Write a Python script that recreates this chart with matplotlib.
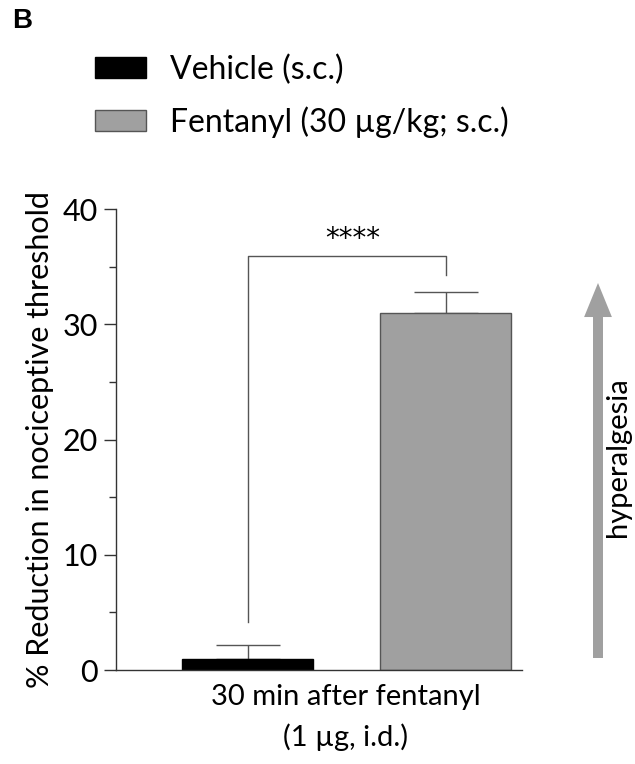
import matplotlib
matplotlib.use('Agg')
import matplotlib.pyplot as plt
from matplotlib.patches import Patch, FancyArrowPatch

plt.rcParams['font.family'] = ['Lato', 'DejaVu Sans']

groups = ['Vehicle (s.c.)', 'Fentanyl (30 \u00b5g/kg; s.c.)']
means = [1.0, 31.0]
sems = [1.2, 1.8]
colors = ['black', '#a0a0a0']
edges = ['black', '#555555']
bracket_y = 35.9
bracket_left_bottom = 4.2
bracket_right_bottom = 34.3
stars = '****'


def main():
    fig = plt.figure(figsize=(6.35, 7.64), dpi=100)
    ax = fig.add_axes([0.1827, 0.123, 0.6393, 0.6034])

    x = [0, 1]
    ax.bar(x, means, width=0.66, color=colors, edgecolor=edges, linewidth=1, zorder=2)
    ax.errorbar(x, means, yerr=[[0, 0], sems], fmt='none', ecolor='#555555',
                elinewidth=1, capsize=23, capthick=1, zorder=1)

    # significance bracket
    ax.plot([0, 0, 1, 1], [bracket_left_bottom, bracket_y, bracket_y, bracket_right_bottom],
            color='#555555', lw=1)
    ax.text(0.53, bracket_y + 0.3, stars, ha='center', va='bottom', fontsize=20,
            family='DejaVu Sans')

    ax.set_xlim(-0.664, 1.386)
    ax.set_ylim(0, 40)
    ax.set_yticks([0, 10, 20, 30, 40])
    ax.set_yticks([5, 15, 25, 35], minor=True)
    ax.set_xticks([])
    ax.tick_params(axis='y', which='major', length=9, width=1, labelsize=22, pad=4, color='#333333')
    ax.tick_params(axis='y', which='minor', length=5, width=1, color='#333333')
    for s in ['top', 'right']:
        ax.spines[s].set_visible(False)
    for s in ['left', 'bottom']:
        ax.spines[s].set_color('#333333')
        ax.spines[s].set_linewidth(1)

    ax.set_ylabel('% Reduction in nociceptive threshold', fontsize=22, labelpad=6)
    ax.set_xlabel('30 min after fentanyl\n(1 \u00b5g, i.d.)', fontsize=21,
                  linespacing=1.6)
    ax.xaxis.set_label_coords(0.565, -0.03)
    ax.xaxis.label.set_va('top')

    handles = [Patch(facecolor=c, edgecolor=e, linewidth=1) for c, e in zip(colors, edges)]
    fig.legend(handles, groups, loc='upper left', bbox_to_anchor=(0.1496, 0.929),
               frameon=False, fontsize=23, handlelength=1.6, handleheight=0.62,
               handletextpad=0.75, labelspacing=0.68, borderaxespad=0, borderpad=0)

    fig.text(0.019, 0.973, 'B', fontsize=20, fontweight='bold', ha='left', va='center',
             family='Liberation Sans')

    arrow = FancyArrowPatch((598, 764 - 658), (598, 764 - 283),
                            arrowstyle='simple,head_length=24.5,head_width=20,tail_width=7.2',
                            mutation_scale=1, color='#a0a0a0', shrinkA=0, shrinkB=0, lw=0)
    arrow.set_transform(matplotlib.transforms.IdentityTransform())
    fig.add_artist(arrow)
    fig.text(0.974, 0.402, 'hyperalgesia', rotation=90, fontsize=21, ha='center', va='center')

    fig.savefig('out.png', dpi=100)


if __name__ == "__main__":
    main()
